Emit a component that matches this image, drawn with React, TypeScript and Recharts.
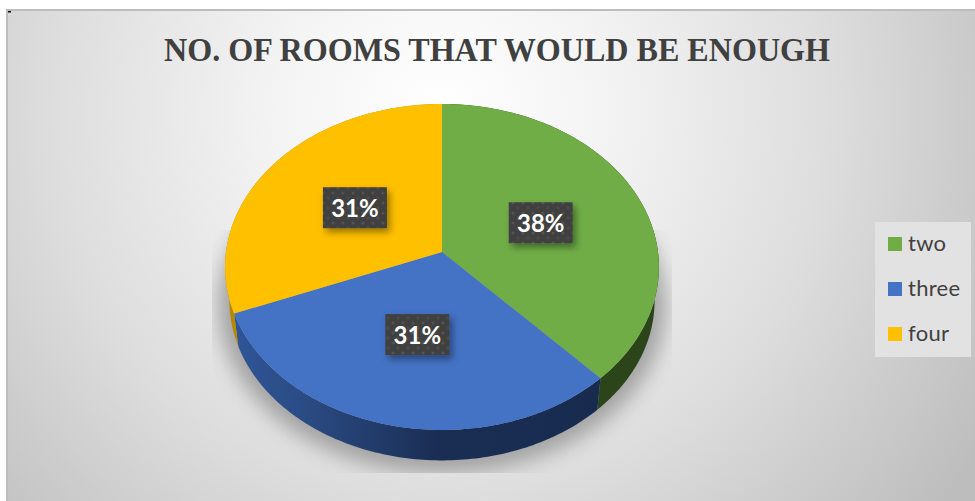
import { Pie, PieChart, Legend } from 'recharts';

const categories = ['two', 'three', 'four'];
const shares = [38, 31, 31];
const colors = ['#70ad47', '#4472c4', '#ffc000'];
const wallColors = ['#2c4419', 'url(#blueWall)', '#b58a00'];
const chartTitle = 'NO. OF ROOMS THAT WOULD BE ENOUGH';

const rows = categories.map((name, i) => ({ name, value: shares[i] }));

const WIDTH = 975;
const HEIGHT = 501;
const CX = 442;
const CY = 252;
const RX = 216;
const SQUASH = 161.6 / 216;
const PERSPECTIVE = -0.092;
const DEPTH = 34;
const BASE_SCALE = 0.98;

// tilted disc: (u, v) on the unit circle goes to screen offsets from the hub
function project(cx: number, cy: number, r: number, deg: number, frac = 1, scale = 1, drop = 0) {
  const a = (deg * Math.PI) / 180;
  const u = Math.cos(a) * frac;
  const v = -Math.sin(a) * frac;
  const w = 1 + PERSPECTIVE * v;
  return {
    x: cx + (scale * r * u) / w,
    y: cy + drop + (scale * r * SQUASH * v) / w,
  };
}

function rim(props: any, scale = 1, drop = 0) {
  const { cx, cy, outerRadius, startAngle, endAngle } = props;
  const steps = Math.max(2, Math.ceil(Math.abs(endAngle - startAngle)));
  const pts = [];
  for (let i = 0; i <= steps; i++) {
    const deg = startAngle + ((endAngle - startAngle) * i) / steps;
    pts.push(project(cx, cy, outerRadius, deg, 1, scale, drop));
  }
  return pts;
}

const toPath = (pts: { x: number; y: number }[]) =>
  pts.map((p, i) => `${i ? 'L' : 'M'}${p.x.toFixed(2)} ${p.y.toFixed(2)}`).join(' ');

function TopSlice(props: any) {
  const d = `M${props.cx} ${props.cy} ${toPath(rim(props)).replace('M', 'L')} Z`;
  return <path d={d} fill={props.fill} />;
}

function WallSlice(props: any) {
  const top = rim(props);
  const bottom = rim(props, BASE_SCALE, DEPTH).reverse();
  return <path d={`${toPath([...top, ...bottom])} Z`} fill={wallColors[props.index]} />;
}

// floor shadow is one blurred disc, so only the first slice draws it (no seams between slices)
function ShadowDisc(props: any) {
  if (props.index !== 0) return null;
  const pts = rim({ ...props, startAngle: 0, endAngle: 360 }, 1.03, DEPTH + 4);
  return (
    <g clipPath="url(#shadowClip)">
      <path d={`${toPath(pts)} Z`} fill="#a2a2a2" filter="url(#shadowBlur)" />
    </g>
  );
}

function ShareLabel(props: any) {
  const { cx, cy, outerRadius, midAngle, value } = props;
  const p = project(cx, cy, outerRadius, midAngle, 0.5);
  const w = 64;
  const h = 41;
  return (
    <g>
      <rect x={p.x - w / 2} y={p.y - h / 2} width={w} height={h} fill="url(#dots)" filter="url(#boxShadow)" />
      <text
        x={p.x}
        y={p.y + 9.5}
        textAnchor="middle"
        fontFamily="Lato, Carlito, sans-serif"
        fontWeight={700}
        fontSize={24}
        fill="#ffffff"
      >
        {value}%
      </text>
    </g>
  );
}

function LegendBox() {
  return (
    <svg width={96} height={135} style={{ display: 'block' }}>
      <rect width={96} height={135} fill="#e2e2e2" />
      {categories.map((name, i) => (
        <g key={name}>
          <rect x={13} y={15 + i * 45} width={14} height={14} fill={colors[i]} />
          <text
            x={33}
            y={29 + i * 45}
            fontFamily="Lato, Carlito, sans-serif"
            fontSize={22}
            letterSpacing={0.3}
            fill="#404040"
          >
            {name}
          </text>
        </g>
      ))}
    </svg>
  );
}

export default function App() {
  return (
    <div style={{ position: 'absolute', left: 0, top: 0, width: WIDTH, height: HEIGHT, background: '#ffffff' }}>
      <PieChart width={WIDTH} height={HEIGHT} margin={{ top: 0, right: 0, bottom: 0, left: 0 }}>
        <defs>
          <radialGradient id="plate" gradientUnits="userSpaceOnUse" cx={440} cy={110} r={640}>
            <stop offset="0" stopColor="#ffffff" />
            <stop offset="0.25" stopColor="#f4f4f4" />
            <stop offset="0.6" stopColor="#dedede" />
            <stop offset="1" stopColor="#bdbdbd" />
          </radialGradient>
          <linearGradient id="blueWall" gradientUnits="userSpaceOnUse" x1={236} y1={0} x2={600} y2={0}>
            <stop offset="0" stopColor="#2f5597" />
            <stop offset="0.2" stopColor="#2a4a82" />
            <stop offset="0.55" stopColor="#1a2e54" />
            <stop offset="1" stopColor="#182b4f" />
          </linearGradient>
          <pattern id="dots" patternUnits="userSpaceOnUse" width={10} height={10}>
            <rect width={10} height={10} fill="#404040" />
            <circle cx={3} cy={3} r={1.5} fill="#525252" />
            <circle cx={8} cy={8} r={1.5} fill="#4c4c4c" />
          </pattern>
          <filter id="shadowBlur" x="-10%" y="-15%" width="120%" height="130%" colorInterpolationFilters="sRGB">
            <feGaussianBlur stdDeviation={10} />
          </filter>
          <filter id="boxShadow" x="-20%" y="-30%" width="150%" height="170%">
            <feDropShadow dx={3} dy={4} stdDeviation={3.5} floodColor="#000000" floodOpacity={0.4} />
          </filter>
          <clipPath id="shadowClip">
            <rect x={212} y={230} width={460} height={243} />
          </clipPath>
        </defs>
        <rect x={6} y={9} width={969} height={492} fill="url(#plate)" />
        <rect x={6} y={9} width={969} height={2} fill="#bdbdbd" />
        <rect x={6} y={9} width={2} height={492} fill="#bdbdbd" />
        <rect x={8} y={11} width={3} height={1.5} fill="#000000" />
        <text
          x={497}
          y={61}
          textAnchor="middle"
          fontFamily="'Liberation Serif', serif"
          fontWeight={700}
          fontSize={34}
          textLength={666}
          lengthAdjust="spacingAndGlyphs"
          fill="#404040"
        >
          {chartTitle}
        </text>
        <Pie
          data={rows}
          dataKey="value"
          nameKey="name"
          cx={CX}
          cy={CY}
          outerRadius={RX}
          startAngle={90}
          endAngle={-270}
          shape={ShadowDisc}
          label={false}
          labelLine={false}
          stroke="none"
          isAnimationActive={false}
        />
        <Pie
          data={rows}
          dataKey="value"
          nameKey="name"
          cx={CX}
          cy={CY}
          outerRadius={RX}
          startAngle={90}
          endAngle={-270}
          shape={WallSlice}
          label={false}
          labelLine={false}
          stroke="none"
          isAnimationActive={false}
        />
        <Pie
          data={rows.map((r, i) => ({ ...r, fill: colors[i] }))}
          dataKey="value"
          nameKey="name"
          cx={CX}
          cy={CY}
          outerRadius={RX}
          startAngle={90}
          endAngle={-270}
          shape={TopSlice}
          label={ShareLabel}
          labelLine={false}
          stroke="none"
          isAnimationActive={false}
        />
        <Legend
          content={<LegendBox />}
          layout="vertical"
          wrapperStyle={{ position: 'absolute', left: 875, top: 222, width: 96, height: 135 }}
        />
      </PieChart>
    </div>
  );
}
